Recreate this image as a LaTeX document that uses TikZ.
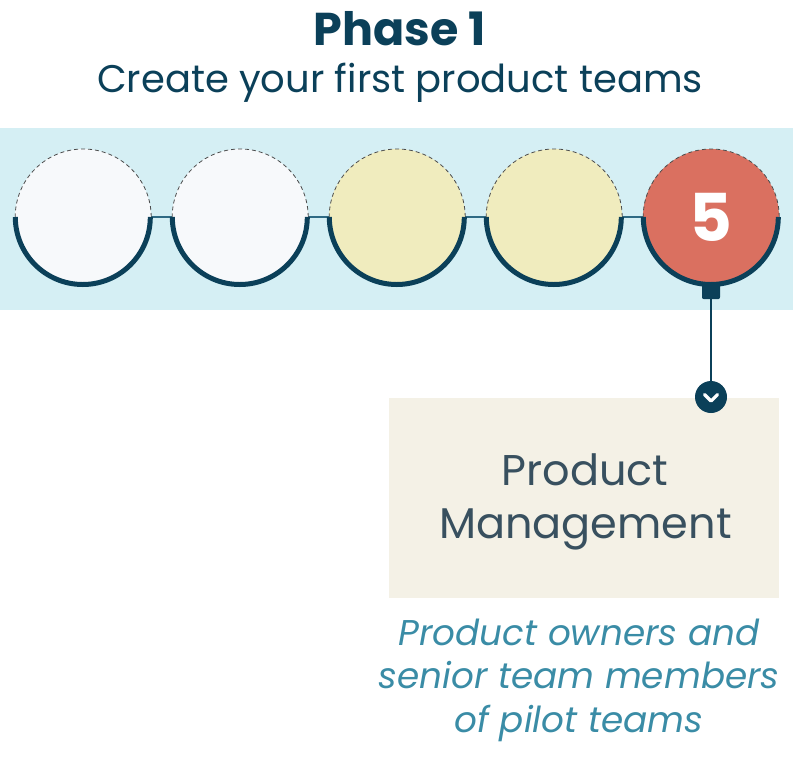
\documentclass[tikz,border=0pt]{standalone}
\usepackage{fontspec}
\setmainfont{Poppins}
\definecolor{navy}{HTML}{0B4059}
\definecolor{bandc}{HTML}{D5EFF4}
\definecolor{linkc}{HTML}{2F6A84}
\definecolor{whitec}{HTML}{F7F9FB}
\definecolor{yellowc}{HTML}{F0ECBE}
\definecolor{redc}{HTML}{DA7060}
\definecolor{boxc}{HTML}{F4F1E6}
\definecolor{boxtext}{HTML}{38505F}
\definecolor{italc}{HTML}{3A8CA6}
\tikzset{
  stage/.style={circle, minimum size=136pt, inner sep=0pt, fill=#1},
  topdash/.style={draw=black!70, line width=0.8pt, dash pattern=on 4pt off 3pt},
  bottomarc/.style={draw=navy, line width=5pt},
  link/.style={draw=linkc, line width=2pt},
  titletext/.style={text=navy, anchor=base, inner sep=0pt},
  boxlabel/.style={text=boxtext, anchor=base, inner sep=0pt, font=\fontsize{43}{53}\selectfont},
  desc/.style={text=italc, anchor=base, inner sep=0pt, font=\fontsize{35.8}{43}\selectfont\itshape},
}
\begin{document}
\begin{tikzpicture}[x=1pt,y=1pt]
\useasboundingbox (0,0) rectangle (793,-756);
\fill[bandc] (0,-128) rectangle (793,-310);

\node[titletext, font=\fontsize{46}{50}\selectfont\bfseries] (title) at (399.5,-45) {Phase 1};
\node[titletext, font=\fontsize{38.5}{42}\selectfont] (subtitle) at (400,-92) {Create your first product teams};

\node[stage=whitec] (c1) at (83,-217) {};
\node[stage=whitec] (c2) at (240,-217) {};
\node[stage=yellowc] (c3) at (397,-217) {};
\node[stage=yellowc] (c4) at (554,-217) {};
\node[stage=redc, text=white, font=\fontsize{66}{66}\selectfont\bfseries] (c5) at (711,-217) {5};

\foreach \a/\b in {c1/c2,c2/c3,c3/c4,c4/c5}{
  \draw[link] (\a.east) -- (\b.west);
}
\foreach \c in {c1,c2,c3,c4,c5}{
  \draw[topdash] (\c.east) arc[start angle=0, end angle=180, radius=68pt];
  \draw[bottomarc] ([xshift=0.5pt]\c.west) arc[start angle=180, end angle=360, radius=67.5pt];
}

\node[fill=navy, minimum width=18pt, minimum height=15pt, inner sep=0pt, rounded corners=2pt, anchor=north] (tab) at (711,-284) {};
\fill[navy] (702,-282) rectangle (720,-290);

\node[fill=boxc, minimum width=390pt, minimum height=200pt, inner sep=0pt] (box) at (584,-498) {};
\node[circle, fill=navy, minimum size=32pt, inner sep=0pt] (chev) at (711,-397) {};
\draw[navy, line width=1.8pt] (tab.south) -- (chev.north);
\coordinate (v1) at ([xshift=-6.5pt, yshift=2.5pt]chev.center);
\coordinate (v2) at ([yshift=-4pt]chev.center);
\coordinate (v3) at ([xshift=6.5pt, yshift=2.5pt]chev.center);
\draw[white, line width=3.2pt, line cap=round, line join=round] (v1) -- (v2) -- (v3);

\node[boxlabel] (pm1) at (585,-485) {Product};
\node[boxlabel] (pm2) at (585.5,-538) {Management};

\node[desc] (d1) at (579,-645) {Product owners and};
\node[desc] (d2) at (579,-688) {senior team members};
\node[desc] (d3) at (579,-732) {of pilot teams};
\end{tikzpicture}
\end{document}
